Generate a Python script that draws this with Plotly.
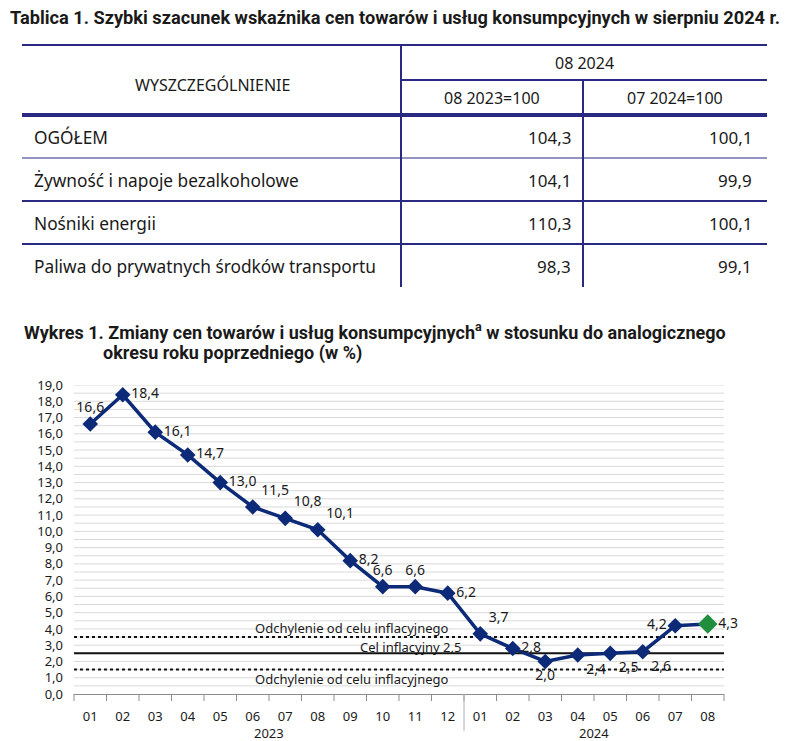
import plotly.graph_objects as go

# ---------------- data ----------------
table_title = "Tablica 1. Szybki szacunek wskaźnika cen towarów i usług konsumpcyjnych w sierpniu 2024 r."
table_head_main = "WYSZCZEGÓLNIENIE"
table_head_period = "08 2024"
table_head_cols = ["08 2023=100", "07 2024=100"]
table_rows = ["OGÓŁEM", "Żywność i napoje bezalkoholowe", "Nośniki energii",
              "Paliwa do prywatnych środków transportu"]
col_yoy = [104.3, 104.1, 110.3, 98.3]
col_mom = [100.1, 99.9, 100.1, 99.1]

chart_title_1 = "Wykres 1. Zmiany cen towarów i usług konsumpcyjnych<sup>a</sup> w stosunku do analogicznego"
chart_title_2 = "okresu roku poprzedniego (w %)"

years = ["2023"] * 12 + ["2024"] * 8
months = ["01", "02", "03", "04", "05", "06", "07", "08", "09", "10", "11", "12",
          "01", "02", "03", "04", "05", "06", "07", "08"]
cpi = [16.6, 18.4, 16.1, 14.7, 13.0, 11.5, 10.8, 10.1, 8.2, 6.6, 6.6, 6.2,
       3.7, 2.8, 2.0, 2.4, 2.5, 2.6, 4.2, 4.3]
label_pos = ["top center", "middle right", "middle right", "middle right", "middle right",
             "top right", "top right", "top right", "middle right", "top center",
             "top center", "middle right", "top right", "middle right", "bottom center",
             "bottom right", "bottom right", "bottom right", "middle left", "middle right"]

target = 2.5
band_upper = 3.5
band_lower = 1.5
band_label = "Odchylenie od celu inflacyjnego"
target_label = "Cel inflacyjny 2,5"

y_max = 19
grid_step = 0.5

# ---------------- style ----------------
W, H = 792, 741
L, R, T, B = 74, 724, 385, 694
NAVY_T = "#2a2a82"
LINE = "#0c2a78"
GREEN = "#1f8f3f"
TXT = "#1a1a1a"
GRID = "#d9d9d9"
AXC = "#8c8c8c"
FONT = "Noto Sans"
TFONT = "Noto Sans"
HFONT = "Roboto"


def px(x):
    return (x - L) / (R - L)


def py(y):
    return (B - y) / (B - T)


n = len(cpi)
idx = list(range(n))

fig = go.Figure()

marker_colors = [LINE] * (n - 1) + [GREEN]
marker_sizes = [12] * (n - 1) + [15]

fig.add_trace(go.Scatter(
    x=idx, y=cpi,
    customdata=[f"{m} {yr}" for m, yr in zip(months, years)],
    mode="lines+markers+text",
    line=dict(color=LINE, width=3.5),
    marker=dict(symbol="diamond", size=marker_sizes, color=marker_colors, opacity=1,
                line=dict(width=0)),
    texttemplate="%{y:.1f}",
    textposition=label_pos,
    textfont=dict(family=FONT, size=14, color=TXT),
    cliponaxis=False,
    showlegend=False,
    hovertemplate="%{customdata}: %{y:.1f}<extra></extra>",
))

shapes = []
# horizontal gridlines (every 0.5) drawn below traces
n_grid = int(round(y_max / grid_step))
for k in range(1, n_grid + 1):
    gv = k * grid_step
    shapes.append(dict(type="line", xref="paper", yref="y", x0=0, x1=1, y0=gv, y1=gv,
                       line=dict(color=GRID, width=1), layer="below"))
# reference lines (above grid, below traces)
for yv, dash in [(band_upper, "dot"), (target, "solid"), (band_lower, "dot")]:
    shapes.append(dict(type="line", xref="paper", yref="y", x0=0, x1=1, y0=yv, y1=yv,
                       line=dict(color="#111111", width=2, dash=dash), layer="below"))
# x-axis boundary ticks (category boundaries, in paper units so they are not clipped)
for i in range(n + 1):
    shapes.append(dict(type="line", xref="paper", yref="paper", x0=i / n, x1=i / n,
                       y0=0, y1=py(701), line=dict(color=AXC, width=1)))
# year divider(s) and year labels
ann = []
uniq_years = list(dict.fromkeys(years))
for yr in uniq_years:
    pos = [i for i, v in enumerate(years) if v == yr]
    ann.append(dict(xref="x", yref="paper", x=sum(pos) / len(pos), y=py(733), text=yr,
                    showarrow=False, yanchor="middle",
                    font=dict(family=FONT, size=13, color=TXT)))
    if pos[0] > 0:
        shapes.append(dict(type="line", xref="paper", yref="paper", x0=pos[0] / n, x1=pos[0] / n,
                           y0=0, y1=py(731), line=dict(color="#b0b0b0", width=1)))


def hline(y, x0, x1, w):
    shapes.append(dict(type="line", xref="paper", yref="paper", x0=px(x0), x1=px(x1),
                       y0=py(y), y1=py(y), line=dict(color=NAVY_T, width=w)))


def vline(x, y0, y1, w):
    shapes.append(dict(type="line", xref="paper", yref="paper", x0=px(x), x1=px(x),
                       y0=py(y0), y1=py(y1), line=dict(color=NAVY_T, width=w)))


TL, TR, C1, C2 = 22, 767, 401, 583
hline(45, TL, TR, 2)
hline(80, C1, TR, 2)
hline(115, TL, TR, 4)
hline(158, TL, TR, 1.2)
hline(201, TL, TR, 2)
hline(244, TL, TR, 2)
vline(C1, 45, 287, 2)
vline(C2, 80, 287, 2)


def text(x, y, s, anchor="center", size=15, family=TFONT, color=TXT):
    ann.append(dict(xref="paper", yref="paper", x=px(x), y=py(y), text=s, showarrow=False,
                    xanchor=anchor, yanchor="middle", font=dict(family=family, size=size, color=color)))


text(8, 18, "<b>" + table_title + "</b>", "left", 18.2, HFONT)
text(212, 85, table_head_main, "center", 16)
text((C1 + TR) / 2, 63, table_head_period, "center", 16)
text((C1 + C2) / 2, 98, table_head_cols[0], "center", 16)
text((C2 + TR) / 2, 98, table_head_cols[1], "center", 16)
row_y = [137, 180, 223, 266]
for lab, a, b, yy in zip(table_rows, col_yoy, col_mom, row_y):
    text(32, yy, lab, "left", 17.3)
    text(573, yy, f"{a:.1f}".replace(".", ","), "right", 17)
    text(754, yy, f"{b:.1f}".replace(".", ","), "right", 17)

text(22, 331, "<b>" + chart_title_1 + "</b>", "left", 18, HFONT)
text(101, 353, "<b>" + chart_title_2 + "</b>", "left", 18, HFONT)

# chart line annotations
ann.append(dict(xref="paper", yref="y", x=px(253), y=band_upper, yanchor="bottom", yshift=-2,
                text=band_label, showarrow=False, font=dict(family=FONT, size=13, color=TXT)))
ann.append(dict(xref="paper", yref="y", x=px(253), y=band_lower, yanchor="top", yshift=2,
                text=band_label, showarrow=False, font=dict(family=FONT, size=13, color=TXT)))
ann.append(dict(xref="paper", yref="y", x=px(410), y=target, yanchor="bottom", yshift=-5,
                text=target_label, showarrow=False, font=dict(family=FONT, size=13, color=TXT)))

fig.update_layout(
    width=W, height=H,
    margin=dict(l=L, r=W - R, t=T, b=H - B, autoexpand=False),
    paper_bgcolor="white", plot_bgcolor="white",
    separators=", ",
    shapes=shapes, annotations=ann,
    font=dict(family=FONT, color=TXT),
    xaxis=dict(range=[-0.5, n - 0.5], tickmode="array", tickvals=idx, ticktext=months,
               showline=True, linecolor=AXC, linewidth=1, ticks="", ticklabelstandoff=10,
               zeroline=False, showgrid=False, tickfont=dict(family=FONT, size=13, color=TXT)),
    yaxis=dict(range=[0, y_max], dtick=1, tickformat=".1f", showgrid=False,
               zeroline=False, showline=False, ticks="",
               ticklabelstandoff=10,
               tickfont=dict(family=FONT, size=13, color=TXT)),
)

fig.write_html("out.html", config={"displayModeBar": False},
               post_script="document.body.style.margin='0px';")
